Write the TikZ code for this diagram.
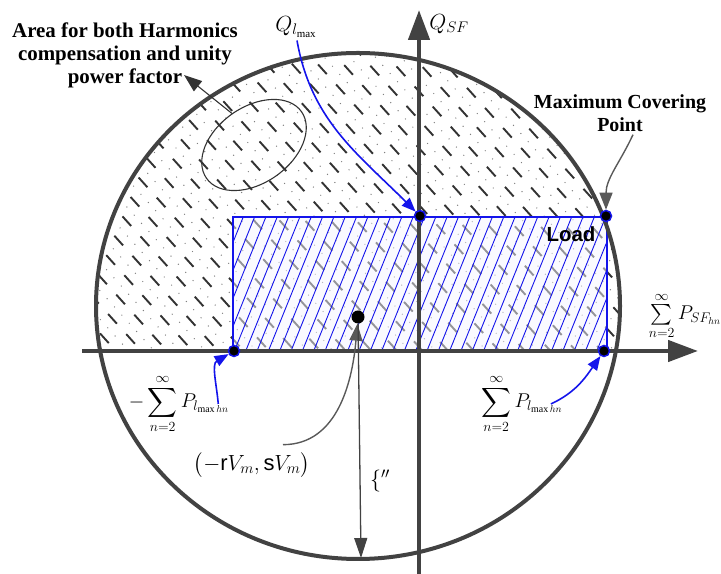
\RequirePackage{fix-cm}
\documentclass[tikz,border=0pt]{standalone}
\usepackage{exscale}
\usepackage{fontspec}
\setmainfont{Liberation Serif}
\setsansfont{Liberation Sans}
\usepackage{tikz}
\usetikzlibrary{arrows.meta, shapes.geometric, positioning, calc}

\definecolor{axisgray}{HTML}{424242}
\definecolor{hatchgray}{HTML}{333333}
\definecolor{loadblue}{RGB}{20,20,235}

\begin{document}
\begin{tikzpicture}[x=1bp, y=1bp,
    axis/.style={line width=4.5bp, draw=axisgray, -{Triangle[length=30bp,width=21bp]}},
    rim/.style={line width=4bp, draw=axisgray},
    hatchdash/.style={line width=1.9bp, draw=hatchgray, dash pattern=on 13bp off 14bp},
    hatchdot/.style={line width=1.4bp, draw=gray, line cap=round, dash pattern=on 0bp off 11bp},
    loadhatch/.style={line width=0.9bp, draw=loadblue},
    corner/.style={circle, fill=black, draw=loadblue, line width=1.5bp, minimum size=11bp, inner sep=0pt},
    zone/.style={ellipse, draw=black!80, line width=1.1bp, minimum width=116bp, minimum height=76bp, rotate=35, inner sep=0pt},
    boldlbl/.style={font=\bfseries\fontsize{21}{23.2}\selectfont, align=center, inner sep=0pt},
    mathlbl/.style={font=\fontsize{22}{26}\selectfont, inner sep=0pt},
    sumlbl/.style={font=\fontsize{20}{24}\selectfont, inner sep=0pt},
    callout/.style={line width=1.1bp, draw=black!80, -{Triangle[length=18bp,width=13bp]}},
    greycall/.style={line width=1.4bp, draw=black!65, -{Triangle[length=17bp,width=13bp]}},
    bluecall/.style={line width=1.6bp, draw=loadblue, -{Triangle[length=14bp,width=11bp]}},
    rhoarrow/.style={line width=1.3bp, draw=axisgray, -{Triangle[length=20bp,width=13bp]}}]

    \useasboundingbox (0,0) rectangle (721,574);

    \begin{scope}
        \clip (80,223) rectangle (640,540);
        \clip (358,268) ellipse [x radius=262, y radius=253];
        \begin{scope}[shift={(358,380)}, rotate=-48]
            \foreach \k in {-17,...,17} {
                \draw[hatchdash, dash phase=\k*9bp] (-420,\k*19) -- (420,\k*19);
                \draw[hatchdot] (-420,\k*19+9.5) -- (420,\k*19+9.5);
            }
        \end{scope}
    \end{scope}

    \fill[blue!4, fill opacity=0.5] (233,223) rectangle (607,357);
    \begin{scope}
        \clip (233,223) rectangle (607,357);
        \begin{scope}[shift={(420,290)}, rotate=68]
            \foreach \k in {-20,...,20}
                \draw[loadhatch] (-200,\k*10.5) -- (200,\k*10.5);
        \end{scope}
    \end{scope}
    \draw[loadblue, line width=1.6bp] (233,223) rectangle (607,357);

    \draw[rim] (358,268) ellipse [x radius=262, y radius=253];
    \draw[axis] (82,223) -- (698,223);
    \draw[axis] (419,0) -- (419,564);

    \node[corner] (qtop) at (420,358) {};
    \node[corner] (cornr) at (606,358) {};
    \node[corner] (cornl) at (234,223) {};
    \node[corner] (cornrb) at (604,223) {};
    \node[circle, fill=black, minimum size=13bp, inner sep=0pt] (cpt) at (358,257) {};
    \coordinate (rhoend) at (361,16);
    \coordinate (areatip) at (184,499);

    \node[zone] (zone) at (254,429) {};
    \node[boldlbl] (area) at (125,519) {Area for both Harmonics\\compensation and unity\\power factor};
    \node[boldlbl, font=\bfseries\fontsize{20}{23}\selectfont] (maxcov) at (620,461) {Maximum Covering\\Point};
    \node[inner sep=0pt, font=\sffamily\bfseries\fontsize{20.5}{24}\selectfont,
          below left=6bp and 6bp of cornr] (load) {Load};

    \node[mathlbl] (qsf) at (449,550) {$Q_{SF}$};
    \node[mathlbl] (qlmax) at (296,547) {$Q_{l_{\max}}$};
    \node[sumlbl] (psf) at (685,258) {$\sum\limits_{n=2}^{\infty} P_{SF_{hn}}$};
    \node[sumlbl] (plneg) at (179,170) {$-\displaystyle\sum_{n=2}^{\infty} P_{l_{\max hn}}$};
    \node[sumlbl] (plpos) at (522,170) {$\displaystyle\sum_{n=2}^{\infty} P_{l_{\max hn}}$};
    \node[mathlbl] (cpl) at (252,109) {$\bigl(-\textsf{r}V_m,\textsf{s}V_m\bigr)$};
    \node[mathlbl] (rho) at (380,93) {$\{''$};

    \draw[callout] (zone.north) -- (areatip);
    \draw[bluecall] ($(qlmax.south)+(1,-3)$) to[out=-80, in=135] (qtop);
    \draw[greycall] ($(maxcov.south)+(13,-3)$) to[out=-115, in=90] (cornr);
    \draw[bluecall] ($(plneg.east)+(-11,0)$) to[out=95, in=210] (cornl);
    \draw[bluecall] ($(plpos.east)+(-12,0)$) to[out=25, in=235] (cornrb);
    \draw[greycall] ($(cpl.north)+(31,7)$) to[out=0, in=-95] (cpt);
    \draw[rhoarrow] (cpt) -- (rhoend);
\end{tikzpicture}
\end{document}
